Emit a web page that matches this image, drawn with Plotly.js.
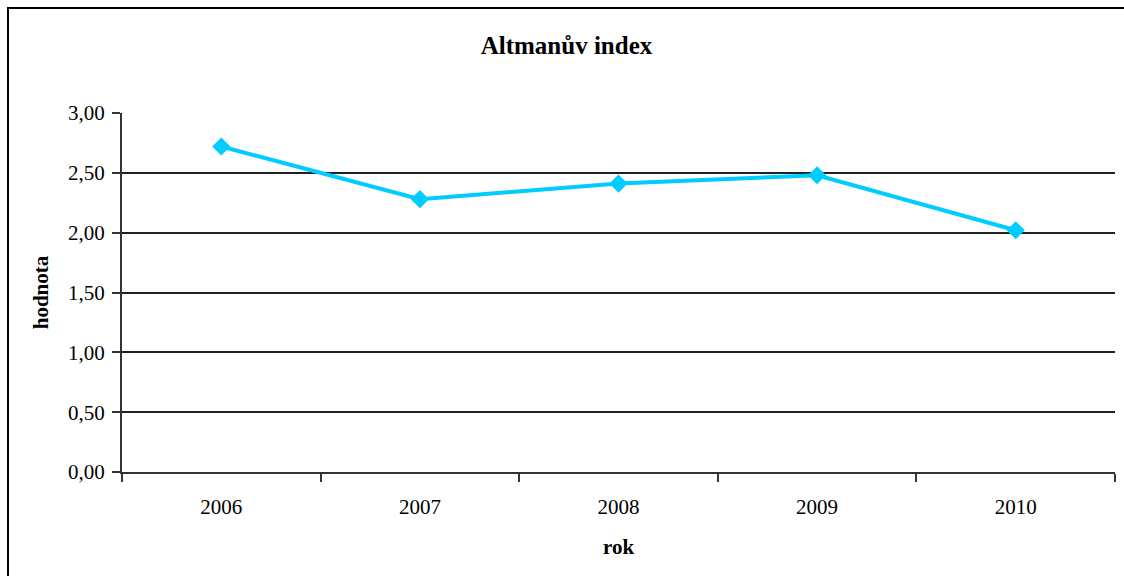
<!DOCTYPE html>
<html>
<head>
<meta charset="utf-8">
<script src="https://cdn.plot.ly/plotly-3.0.1.min.js"></script>
<style>
  html, body { margin: 0; padding: 0; background: #fff; overflow: hidden; }
  #chart { width: 1124px; height: 576px; }
</style>
</head>
<body>
<div id="chart"></div>
<script>
// Altmanův index podle let
const years = ['2006', '2007', '2008', '2009', '2010'];
const altmanValues = [2.72, 2.28, 2.41, 2.48, 2.02];
const yTickValues = [0, 0.5, 1, 1.5, 2, 2.5, 3];

const serif = 'Liberation Serif, Times New Roman, serif';

const W = 1124, H = 576;
const M = { l: 122, r: 9, t: 113, b: 104 };
const plotW = W - M.l - M.r, plotH = H - M.t - M.b;
// pixel -> paper fraction helpers for the outer chart frame
const px = (x) => (x - M.l) / plotW;
const py = (y) => (H - M.b - y) / plotH;

const trace = {
  type: 'scatter',
  mode: 'lines+markers',
  x: years,
  y: altmanValues,
  line: { color: '#00CCFF', width: 4 },
  marker: { symbol: 'diamond', size: 14, color: '#00CCFF' },
  hoverinfo: 'x+y'
};

const frameLine = { type: 'line', xref: 'paper', yref: 'paper', line: { color: '#000', width: 2 }, layer: 'above' };

const layout = {
  width: W,
  height: H,
  margin: M,
  paper_bgcolor: '#fff',
  plot_bgcolor: '#fff',
  separators: ',.',
  showlegend: false,
  title: {
    text: '<b>Altmanův index</b>',
    font: { family: serif, size: 25, color: '#000' },
    x: 0.504, xanchor: 'center',
    y: 0.922, yanchor: 'middle'
  },
  shapes: [
    Object.assign({}, frameLine, { x0: px(8), x1: px(8), y0: py(7), y1: py(H + 2) }),
    Object.assign({}, frameLine, { x0: px(7), x1: px(W + 2), y0: py(8), y1: py(8) })
  ],
  xaxis: {
    type: 'category',
    range: [-0.5, years.length - 0.5],
    tickson: 'boundaries',
    ticks: 'outside',
    ticklen: 8,
    tickwidth: 2,
    tickcolor: '#333',
    ticklabelstandoff: 15,
    showline: true,
    linecolor: '#333',
    linewidth: 2,
    showgrid: false,
    zeroline: false,
    tickfont: { family: serif, size: 21, color: '#000' },
    title: { text: '<b>rok</b>', font: { family: serif, size: 21, color: '#000' }, standoff: 21 }
  },
  yaxis: {
    range: [0, 3],
    tickvals: yTickValues,
    tickformat: '.2f',
    ticks: 'outside',
    ticklen: 8,
    tickwidth: 2,
    tickcolor: '#333',
    ticklabelstandoff: 3,
    showline: true,
    linecolor: '#333',
    linewidth: 2,
    showgrid: true,
    gridcolor: '#222',
    gridwidth: 2,
    zeroline: false,
    tickfont: { family: serif, size: 21, color: '#000' },
    title: { text: '<b>hodnota</b>', font: { family: serif, size: 21, color: '#000' }, standoff: 14 }
  }
};

Plotly.newPlot('chart', [trace], layout, { displayModeBar: false, staticPlot: true });
</script>
</body>
</html>
